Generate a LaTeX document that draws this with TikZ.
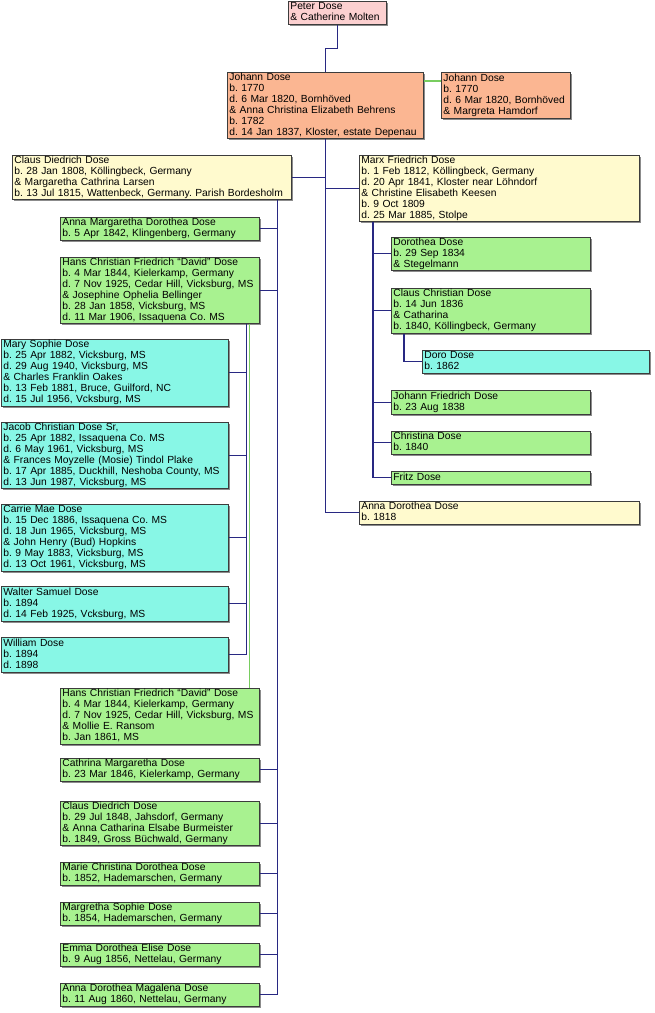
\documentclass[tikz,border=0pt]{standalone}
\usepackage{fontspec}
\setmainfont{Liberation Sans}
\usepackage{tikz}
\usetikzlibrary{shadows}
\usepackage{xcolor}

\definecolor{topgen}{RGB}{252,208,208}
\definecolor{oldgen}{RGB}{251,182,146}
\definecolor{midgen}{RGB}{255,250,206}
\definecolor{kidgen}{RGB}{168,242,144}
\definecolor{grandgen}{RGB}{136,247,230}
\definecolor{boxline}{RGB}{60,60,60}
\definecolor{linkblue}{RGB}{40,40,130}
\definecolor{linkgreen}{RGB}{120,205,95}

\newcommand{\rows}[1]{\noindent\begin{tabular}{@{}l@{}}#1\end{tabular}}
\frenchspacing

\begin{document}
\begin{tikzpicture}[x=1pt,y=-1pt,
  every node/.style={font=\fontsize{10.3}{11}\selectfont},
  person/.style={draw=boxline, line width=.8pt, anchor=north west,
    inner xsep=2pt, inner ysep=0pt, align=left,
    drop shadow={shadow xshift=1.8pt, shadow yshift=-1.8pt, fill=black, opacity=.45}},
  link/.style={draw=linkblue, line width=1.1pt},
  spouse/.style={draw=linkgreen, line width=1.1pt}]

  \useasboundingbox (0,0) rectangle (655,1013);

  % top
  \node[person, fill=topgen, text width=94pt, minimum height=23pt] (pd) at (288,1)
    {\rows{Peter Dose\\ \& Catherine Molten}};

  % johann, both marriages
  \node[person, fill=oldgen, text width=192pt, minimum height=66pt] (jd) at (227,72)
    {\rows{Johann Dose\\ b. 1770\\ d. 6 Mar 1820, Bornhöved\\ \& Anna Christina Elizabeth Behrens\\ b. 1782\\ d. 14 Jan 1837, Kloster, estate Depenau}};
  \node[person, fill=oldgen, text width=125pt, minimum height=46pt] (jd2) at (441,72)
    {\rows{Johann Dose\\ b. 1770\\ d. 6 Mar 1820, Bornhöved\\ \& Margreta Hamdorf}};

  % sons and daughter
  \node[person, fill=midgen, text width=275pt, minimum height=43pt] (cdd) at (12,155)
    {\rows{Claus Diedrich Dose\\ b. 28 Jan 1808, Köllingbeck, Germany\\ \& Margaretha Cathrina Larsen\\ b. 13 Jul 1815, Wattenbeck, Germany. Parish Bordesholm}};
  \node[person, fill=midgen, text width=276pt, minimum height=66pt] (mfd) at (359,155)
    {\rows{Marx Friedrich Dose\\ b. 1 Feb 1812, Köllingbeck, Germany\\ d. 20 Apr 1841, Kloster near Löhndorf\\ \& Christine Elisabeth Keesen\\ b. 9 Oct 1809\\ d. 25 Mar 1885, Stolpe}};
  \node[person, fill=midgen, text width=276pt, minimum height=23pt] (ad) at (359,501)
    {\rows{Anna Dorothea Dose\\ b. 1818}};

  % claus diedrich's children
  \node[person, fill=kidgen, text width=195pt, minimum height=23pt] (amd) at (60,217)
    {\rows{Anna Margaretha Dorothea Dose\\ b. 5 Apr 1842, Klingenberg, Germany}};
  \node[person, fill=kidgen, text width=195pt, minimum height=66pt] (hcd) at (60,257)
    {\rows{Hans Christian Friedrich “David” Dose\\ b. 4 Mar 1844, Kielerkamp, Germany\\ d. 7 Nov 1925, Cedar Hill, Vicksburg, MS\\ \& Josephine Ophelia Bellinger\\ b. 28 Jan 1858, Vicksburg, MS\\ d. 11 Mar 1906, Issaquena Co. MS}};
  \node[person, fill=kidgen, text width=195pt, minimum height=56pt] (hcd2) at (60,688)
    {\rows{Hans Christian Friedrich “David” Dose\\ b. 4 Mar 1844, Kielerkamp, Germany\\ d. 7 Nov 1925, Cedar Hill, Vicksburg, MS\\ \& Mollie E. Ransom\\ b. Jan 1861, MS}};
  \node[person, fill=kidgen, text width=195pt, minimum height=23pt] (cmd) at (60,758)
    {\rows{Cathrina Margaretha Dose\\ b. 23 Mar 1846, Kielerkamp, Germany}};
  \node[person, fill=kidgen, text width=195pt, minimum height=44pt] (cdd2) at (60,801)
    {\rows{Claus Diedrich Dose\\ b. 29 Jul 1848, Jahsdorf, Germany\\ \& Anna Catharina Elsabe Burmeister\\ b. 1849, Gross Büchwald, Germany}};
  \node[person, fill=kidgen, text width=195pt, minimum height=23pt] (mcd) at (60,862)
    {\rows{Marie Christina Dorothea Dose\\ b. 1852, Hademarschen, Germany}};
  \node[person, fill=kidgen, text width=195pt, minimum height=23pt] (msd) at (60,902)
    {\rows{Margretha Sophie Dose\\ b. 1854, Hademarschen, Germany}};
  \node[person, fill=kidgen, text width=195pt, minimum height=23pt] (edd) at (60,943)
    {\rows{Emma Dorothea Elise Dose\\ b. 9 Aug 1856, Nettelau, Germany}};
  \node[person, fill=kidgen, text width=195pt, minimum height=23pt] (adm) at (60,983)
    {\rows{Anna Dorothea Magalena Dose\\ b. 11 Aug 1860, Nettelau, Germany}};

  % hans christian's children
  \node[person, fill=grandgen, text width=223pt, minimum height=67pt] (msod) at (1,339)
    {\rows{Mary Sophie Dose\\ b. 25 Apr 1882, Vicksburg, MS\\ d. 29 Aug 1940, Vicksburg, MS\\ \& Charles Franklin Oakes\\ b. 13 Feb 1881, Bruce, Guilford, NC\\ d. 15 Jul 1956, Vcksburg, MS}};
  \node[person, fill=grandgen, text width=223pt, minimum height=66pt] (jcd) at (1,422)
    {\rows{Jacob Christian Dose Sr,\\ b. 25 Apr 1882, Issaquena Co. MS\\ d. 6 May 1961, Vicksburg, MS\\ \& Frances Moyzelle (Mosie) Tindol Plake\\ b. 17 Apr 1885, Duckhill, Neshoba County, MS\\ d. 13 Jun 1987, Vicksburg, MS}};
  \node[person, fill=grandgen, text width=223pt, minimum height=67pt] (cmad) at (1,504)
    {\rows{Carrie Mae Dose\\ b. 15 Dec 1886, Issaquena Co. MS\\ d. 18 Jun 1965, Vicksburg, MS\\ \& John Henry (Bud) Hopkins\\ b. 9 May 1883, Vicksburg, MS\\ d. 13 Oct 1961, Vicksburg, MS}};
  \node[person, fill=grandgen, text width=223pt, minimum height=35pt] (wsd) at (1,586)
    {\rows{Walter Samuel Dose\\ b. 1894\\ d. 14 Feb 1925, Vcksburg, MS}};
  \node[person, fill=grandgen, text width=223pt, minimum height=35pt] (wd) at (1,637)
    {\rows{William Dose\\ b. 1894\\ d. 1898}};

  % marx friedrich's children
  \node[person, fill=kidgen, text width=195pt, minimum height=32pt] (dd) at (391,237)
    {\rows{Dorothea Dose\\ b. 29 Sep 1834\\ \& Stegelmann}};
  \node[person, fill=kidgen, text width=195pt, minimum height=45pt] (ccd) at (391,288)
    {\rows{Claus Christian Dose\\ b. 14 Jun 1836\\ \& Catharina\\ b. 1840, Köllingbeck, Germany}};
  \node[person, fill=grandgen, text width=223pt, minimum height=23pt] (drd) at (422,350)
    {\rows{Doro Dose\\ b. 1862}};
  \node[person, fill=kidgen, text width=195pt, minimum height=24pt] (jfd) at (391,390)
    {\rows{Johann Friedrich Dose\\ b. 23 Aug 1838}};
  \node[person, fill=kidgen, text width=195pt, minimum height=23pt] (chd) at (391,431)
    {\rows{Christina Dose\\ b. 1840}};
  \node[person, fill=kidgen, text width=195pt, minimum height=13pt] (fd) at (391,471)
    {\rows{Fritz Dose}};

  % links
  \draw[link] (pd.south) -- ++(0,24) -| (jd.north);
  \draw[spouse] ([yshift=-9pt]jd.north east) -- ([yshift=-9pt]jd2.north west);

  \draw[link] (jd.south) |- (cdd.east);
  \draw[link] (jd.south) |- (mfd.west);
  \draw[link] (jd.south) |- (ad.west);

  \coordinate (ct) at ([xshift=-14pt]cdd.south east);
  \foreach \k in {amd,hcd,cmd,cdd2,mcd,msd,edd,adm}
    \draw[link] (ct) |- (\k.east);

  \coordinate (ht) at ([xshift=-13pt]hcd.south east);
  \foreach \k in {msod,jcd,cmad,wsd,wd}
    \draw[link] (ht) |- (\k.east);
  \draw[spouse] ([xshift=-10pt]hcd.south east) -- ([xshift=-10pt]hcd2.north east);

  \coordinate (mt) at ([xshift=14pt]mfd.south west);
  \foreach \k in {dd,ccd,jfd,chd,fd}
    \draw[link] (mt) |- (\k.west);

  \coordinate (cct) at ([xshift=13pt]ccd.south west);
  \draw[link] (cct) |- (drd.west);

\end{tikzpicture}
\end{document}
